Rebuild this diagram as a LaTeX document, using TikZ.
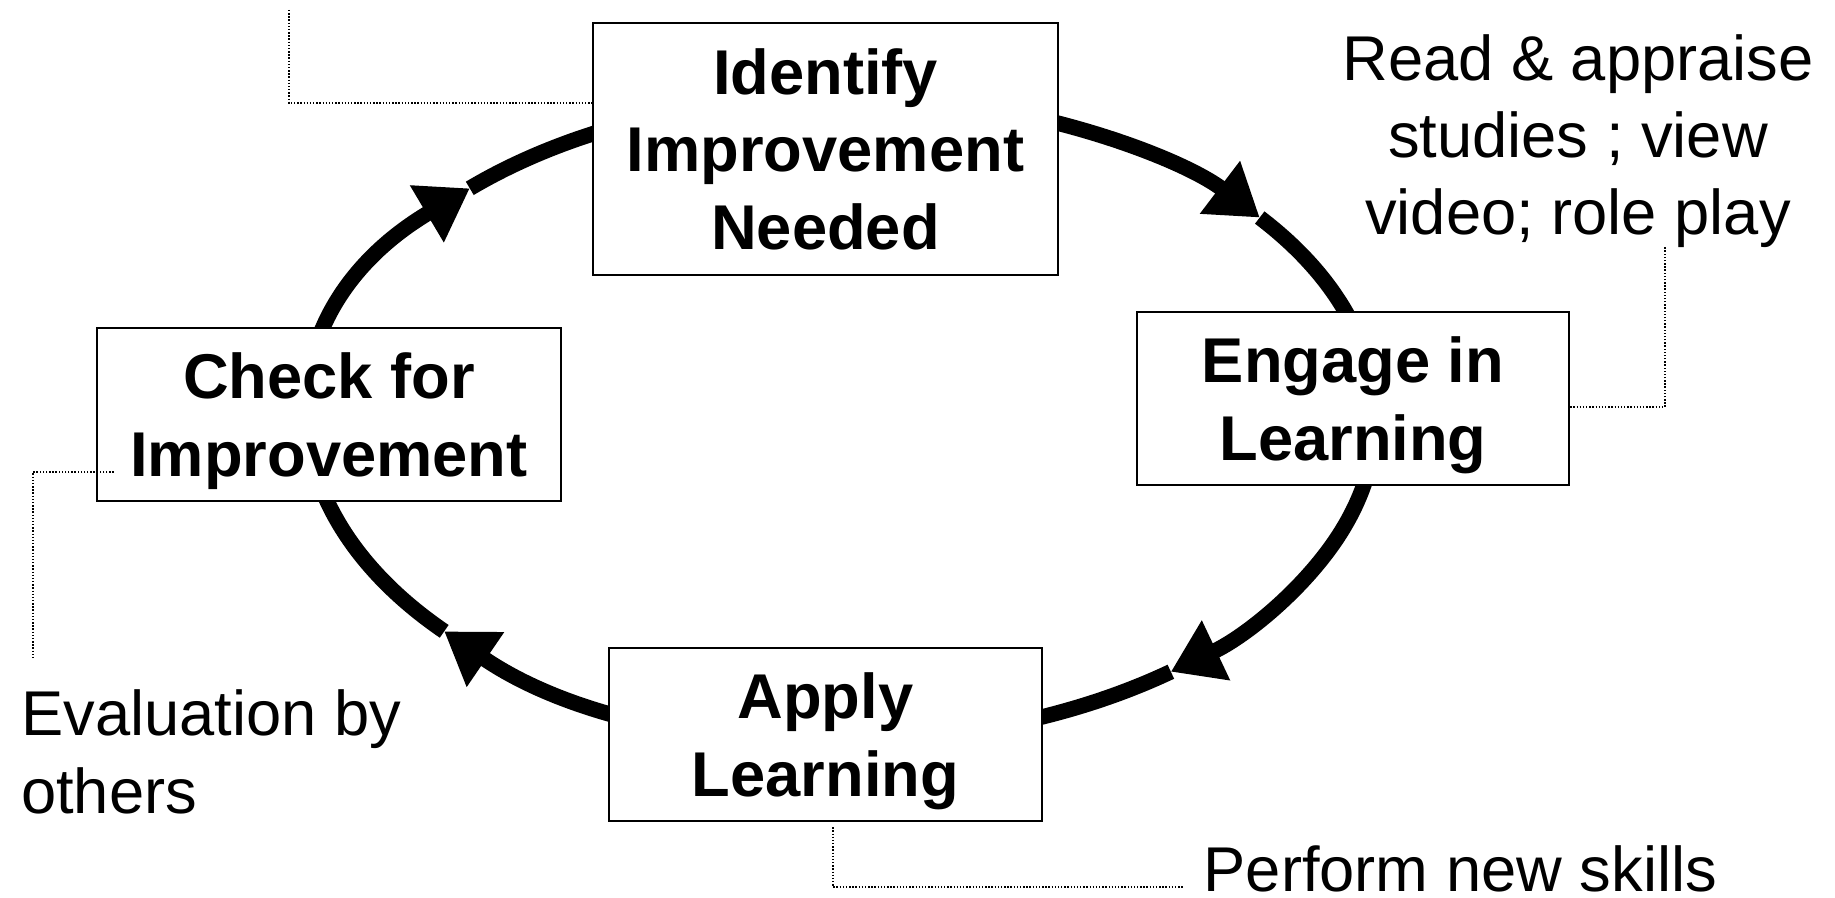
\documentclass[tikz,border=0pt]{standalone}
\usepackage{fontspec}
\setmainfont{Liberation Sans}
\usetikzlibrary{arrows.meta}

\tikzset{
	stage/.style={draw=black, line width=0.7pt, fill=white, inner sep=0pt, text depth=0pt, align=center, font=\fontsize{18}{22}\selectfont\bfseries},
	remark/.style={inner sep=0pt, font=\fontsize{18}{22}\selectfont},
	ring/.style={line width=1.55mm, -{Triangle[length=5mm, width=6.3mm]}},
	leader/.style={line width=0.5pt, dash pattern=on 0.4pt off 0.5pt}
}

\begin{document}
\begin{tikzpicture}

	\useasboundingbox (0,0) rectangle (18.35,-8.98);

	%Cycle
	\coordinate (ctr) at (8.43,-4.18);
	\draw[ring] (ctr) ++(221.5:5.325 and 3.22) arc[start angle=221.5, end angle=134.5, x radius=5.325, y radius=3.22];
	\draw[ring] (ctr) ++(134.5:5.325 and 3.22) arc[start angle=134.5, end angle=38.5, x radius=5.325, y radius=3.22];
	\draw[ring] (ctr) ++(38.5:5.325 and 3.22) arc[start angle=38.5, end angle=-52, x radius=5.325, y radius=3.22];
	\draw[ring] (ctr) ++(-52:5.325 and 3.22) arc[start angle=-52, end angle=-138.5, x radius=5.325, y radius=3.22];

	%Stages
	\node[stage, minimum width=4.65cm, minimum height=2.52cm] (ident) at (8.255,-1.49) {Identify\\Improvement\\Needed};
	\node[stage, minimum width=4.32cm, minimum height=1.73cm] (engage) at (13.53,-3.985) {Engage in\\Learning};
	\node[stage, minimum width=4.33cm, minimum height=1.73cm] (apply) at (8.255,-7.345) {Apply\\Learning};
	\node[stage, minimum width=4.64cm, minimum height=1.73cm] (check) at (3.29,-4.145) {Check for\\Improvement};

	%Remarks
	\node[remark, align=center] (readtxt) at (15.78,-1.41) {Read \& appraise\\studies ; view\\video; role play};
	\node[remark, align=left, anchor=west] (evaltxt) at (0.205,-7.52) {Evaluation by\\others};
	\node[remark, anchor=base west] (perftxt) at (12.03,-8.91) {Perform new skills};

	%Leaders
	\coordinate (idend) at (2.89,-0.10);
	\draw[leader] (idend) |- ([yshift=4.6mm]ident.west);
	\coordinate (readend) at (16.65,-2.47);
	\draw[leader] ([yshift=-0.85mm]engage.east) -| (readend);
	\coordinate (evalend) at (0.33,-6.60);
	\draw[leader] ([xshift=1.8mm, yshift=-5.75mm]check.west) -| (evalend);
	\coordinate (perfend) at (11.83,-8.87);
	\draw[leader] ([xshift=0.75mm, yshift=-0.5mm]apply.south) |- (perfend);

\end{tikzpicture}
\end{document}
